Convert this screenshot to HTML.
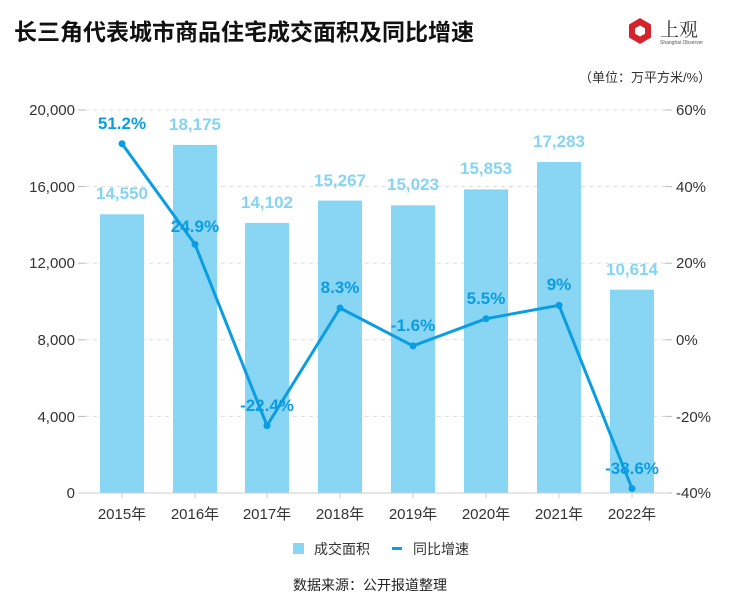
<!DOCTYPE html>
<html><head><meta charset="utf-8"><style>
body{margin:0;background:#fff;width:740px;height:605px;overflow:hidden}
svg{display:block;font-family:"Liberation Sans","Noto Sans CJK SC",sans-serif}
</style></head><body>
<svg width="740" height="605" viewBox="0 0 740 605">
<text x="14" y="40" font-size="23" font-weight="bold" fill="#111">长三角代表城市商品住宅成交面积及同比增速</text>
<g transform="translate(640,31)">
<polygon points="0,-13 11,-6.5 11,6.5 0,13 -11,6.5 -11,-6.5" fill="#d3232c"/>
<polygon points="0,-5.5 5,-2.7 5,2.7 0,5.5 -5,2.7 -5,-2.7" fill="#fff"/>
</g>
<text x="660" y="36" font-size="19" fill="#333" font-family="'Noto Serif CJK SC',serif">上观</text>
<text x="660" y="44" font-size="5" fill="#555">Shanghai Observer</text>
<text x="579" y="82" font-size="13" fill="#333">（单位：万平方米/%）</text>
<g stroke="#ddd" stroke-dasharray="4,4" stroke-width="1">
<line x1="85" y1="110" x2="665" y2="110"/><line x1="85" y1="186.6" x2="665" y2="186.6"/>
<line x1="85" y1="263.2" x2="665" y2="263.2"/><line x1="85" y1="339.8" x2="665" y2="339.8"/>
<line x1="85" y1="416.4" x2="665" y2="416.4"/>
</g>
<g stroke="#bbb"><line x1="78" y1="110" x2="85" y2="110"/><line x1="78" y1="186.6" x2="85" y2="186.6"/><line x1="78" y1="263.2" x2="85" y2="263.2"/><line x1="78" y1="339.8" x2="85" y2="339.8"/><line x1="78" y1="416.4" x2="85" y2="416.4"/>
<line x1="665" y1="110" x2="672" y2="110"/><line x1="665" y1="186.6" x2="672" y2="186.6"/><line x1="665" y1="263.2" x2="672" y2="263.2"/><line x1="665" y1="339.8" x2="672" y2="339.8"/><line x1="665" y1="416.4" x2="672" y2="416.4"/><line x1="665" y1="493" x2="672" y2="493"/></g>
<g font-size="15" fill="#333" text-anchor="end">
<text x="75" y="115">20,000</text><text x="75" y="192">16,000</text><text x="75" y="268">12,000</text><text x="75" y="345">8,000</text><text x="75" y="422">4,000</text><text x="75" y="498">0</text>
</g>
<g font-size="15" fill="#333">
<text x="676" y="115">60%</text><text x="676" y="192">40%</text><text x="676" y="268">20%</text><text x="676" y="345">0%</text><text x="676" y="422">-20%</text><text x="676" y="498">-40%</text>
</g>
<g fill="#88d6f4">
<rect x="100" y="214.3" width="44" height="278.7"/>
<rect x="173" y="144.9" width="44" height="348.1"/>
<rect x="245" y="222.9" width="44" height="270.1"/>
<rect x="318" y="200.6" width="44" height="292.4"/>
<rect x="391" y="205.3" width="44" height="287.7"/>
<rect x="464" y="189.4" width="44" height="303.6"/>
<rect x="537" y="162" width="44" height="331"/>
<rect x="610" y="289.7" width="44" height="203.3"/>
</g>
<line x1="78" y1="493" x2="668" y2="493" stroke="#ccc"/>
<g stroke="#ccc"><line x1="122" y1="493" x2="122" y2="498"/><line x1="195" y1="493" x2="195" y2="498"/><line x1="267" y1="493" x2="267" y2="498"/><line x1="340" y1="493" x2="340" y2="498"/><line x1="413" y1="493" x2="413" y2="498"/><line x1="486" y1="493" x2="486" y2="498"/><line x1="559" y1="493" x2="559" y2="498"/><line x1="632" y1="493" x2="632" y2="498"/></g>
<g font-size="15" fill="#333" text-anchor="middle">
<text x="122" y="519">2015年</text><text x="195" y="519">2016年</text><text x="267" y="519">2017年</text><text x="340" y="519">2018年</text><text x="413" y="519">2019年</text><text x="486" y="519">2020年</text><text x="559" y="519">2021年</text><text x="632" y="519">2022年</text>
</g>
<g font-size="17" font-weight="bold" fill="#86d4f4" text-anchor="middle">
<text x="122" y="199">14,550</text><text x="195" y="130">18,175</text><text x="267" y="208">14,102</text><text x="340" y="186">15,267</text><text x="413" y="190">15,023</text><text x="486" y="174">15,853</text><text x="559" y="147">17,283</text><text x="632" y="275">10,614</text>
</g>
<polyline points="122,143.7 195,244.4 267,425.6 340,308 413,345.9 486,318.7 559,305.3 632,488.5" fill="none" stroke="#0b9de3" stroke-width="3" stroke-linejoin="round"/>
<g fill="#0b9de3"><circle cx="122" cy="143.7" r="3.5"/><circle cx="195" cy="244.4" r="3.5"/><circle cx="267" cy="425.6" r="3.5"/><circle cx="340" cy="308" r="3.5"/><circle cx="413" cy="345.9" r="3.5"/><circle cx="486" cy="318.7" r="3.5"/><circle cx="559" cy="305.3" r="3.5"/><circle cx="632" cy="488.5" r="3.5"/></g>
<g font-size="17" font-weight="bold" fill="#0b9de3" text-anchor="middle">
<text x="122" y="129">51.2%</text><text x="195" y="232">24.9%</text><text x="267" y="411">-22.4%</text><text x="340" y="293">8.3%</text><text x="413" y="331">-1.6%</text><text x="486" y="304">5.5%</text><text x="559" y="290">9%</text><text x="632" y="474">-38.6%</text>
</g>
<rect x="293" y="543" width="11" height="11" fill="#88d6f4"/>
<text x="314" y="554" font-size="14" fill="#333">成交面积</text>
<rect x="392" y="547" width="10" height="3" fill="#0b9de3"/>
<text x="413" y="554" font-size="14" fill="#333">同比增速</text>
<text x="370" y="590" font-size="14" fill="#222" text-anchor="middle">数据来源：公开报道整理</text>
</svg>
</body></html>
